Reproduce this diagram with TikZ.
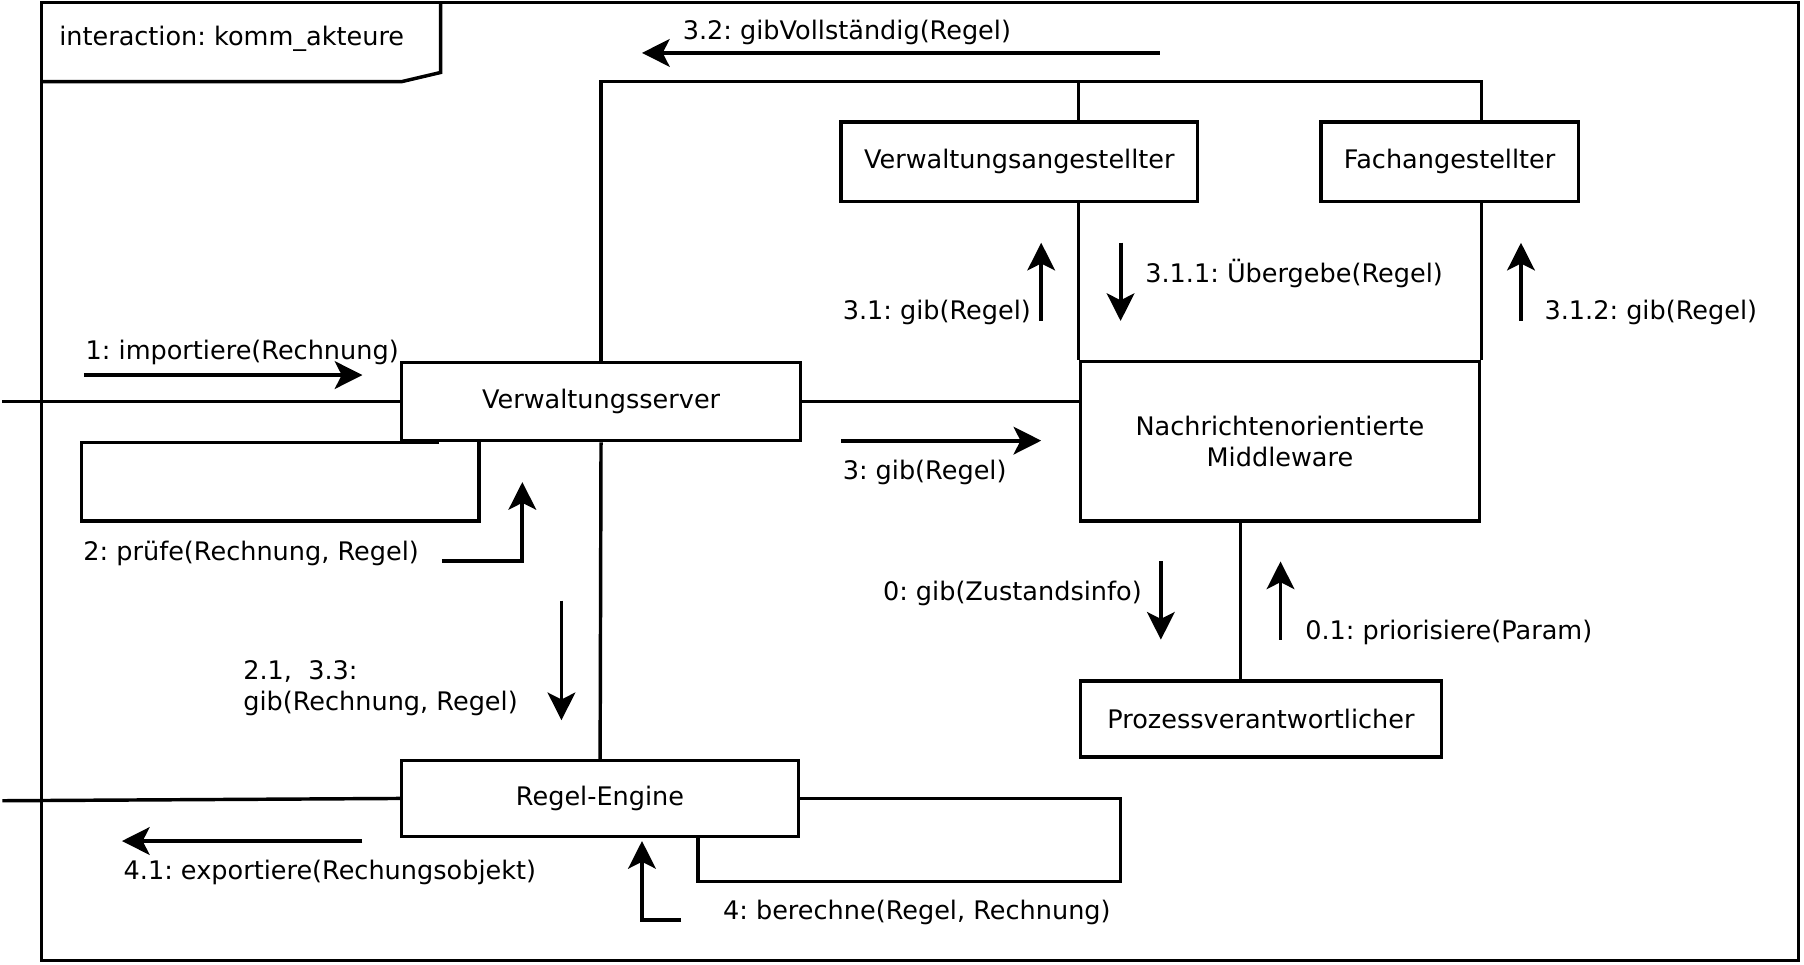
\documentclass[tikz,border=0pt]{standalone}
\usepackage{fontspec}
\setmainfont{DejaVu Sans}
\usetikzlibrary{arrows.meta}
\frenchspacing

\begin{document}
\begin{tikzpicture}[x=0.5pt,y=-0.5pt,line width=1.5pt,
  every node/.style={font=\fontsize{11.1}{13.5}\selectfont},
  obj/.style={draw,inner sep=0pt,align=center},
  msg/.style={line width=1.7pt,-{Stealth[length=12pt,width=12pt,inset=3pt]}},
  lbl/.style={anchor=west,inner sep=0pt,align=left}]
\useasboundingbox (0,0) rectangle (1568,838);
% frame
\draw (36,2) rectangle (1563,835);
\draw (36,71) -- (349,71) -- (383,63) -- (383,2);
\node[lbl] (frm) at (50,34) {interaction: komm\_akteure};

% objects
\node[obj,minimum width=173.5pt,minimum height=34pt] (vs) at (522.5,349) {Verwaltungsserver};
\node[obj,minimum width=155pt,minimum height=34.5pt] (va) at (886,140.5) {Verwaltungsangestellter};
\node[obj,minimum width=112pt,minimum height=34.5pt] (fa) at (1260,140.5) {Fachangestellter};
\node[obj,minimum width=173.5pt,minimum height=69.5pt] (mw) at (1112.5,383.5) {Nachrichtenorientierte\\Middleware};
\node[obj,minimum width=157pt,minimum height=33pt] (pv) at (1096,625) {Prozessverantwortlicher};
\node[obj,minimum width=172.5pt,minimum height=33pt] (re) at (521.5,694) {Regel-Engine};

% links
\coordinate (bus) at (0,71);
\coordinate (in1) at (2,349);
\coordinate (in2) at (2,696);
\draw (in1) -- (vs.west);
\draw (in2) -- (re.west);
\draw (vs.north) |- (bus -| mw.east) -- (fa.north -| mw.east);
\draw (bus -| mw.west) -- (va.north -| mw.west);
\draw (va.south -| mw.west) -- (mw.north west);
\draw (fa.south -| mw.east) -- (mw.north east);
\draw (vs.east) -- (vs.east -| mw.west);
\draw (vs) -- (re);
\draw ([xshift=-9pt]pv.north) -- ([xshift=-9pt]pv.north |- mw.south);
\draw ([xshift=17pt]vs.south west) -| (71,453) -| ([xshift=34.5pt]vs.south west);
\draw (re.east) -| (974,766) -| ([xshift=129.5pt]re.south west);

% messages
\coordinate (imp) at (73,326);
\coordinate (voll) at (1008,46);
\coordinate (gibva) at (905,279);
\coordinate (ueb) at (974,211);
\coordinate (gibfa) at (1322,279);
\coordinate (gibmw) at (731,383);
\coordinate (pruef) at (384,488);
\coordinate (gibre) at (488,522);
\coordinate (zust) at (1009,488);
\coordinate (prio) at (1113,556);
\coordinate (expo) at (315,731);
\coordinate (ber) at (592,800);
\draw[msg] (imp) -- ++(242,0);
\draw[msg] (voll) -- ++(-450,0);
\draw[msg] (gibva) -- ++(0,-68);
\draw[msg] (ueb) -- ++(0,68);
\draw[msg] (gibfa) -- ++(0,-68);
\draw[msg] (gibmw) -- ++(174,0);
\draw[msg] (pruef) -| ++(70,-69);
\draw[msg] (gibre) -- ++(0,104);
\draw[msg] (zust) -- ++(0,68);
\draw[msg] (prio) -- ++(0,-68);
\draw[msg] (expo) -- ++(-209,0);
\draw[msg] (ber) -| ++(-34,-69);

% labels
\node[lbl] (limp) at (73,306) {1: importiere(Rechnung)};
\node[lbl] (lvoll) at (592,28) {3.2: gibVollständig(Regel)};
\node[lbl] (lgibva) at (731,272) {3.1: gib(Regel)};
\node[lbl] (lueb) at (994,238) {3.1.1: Übergebe(Regel)};
\node[lbl] (lgibfa) at (1341,272) {3.1.2: gib(Regel)};
\node[lbl] (lgibmw) at (731,411) {3: gib(Regel)};
\node[lbl] (lpruef) at (71,481) {2: prüfe(Rechnung, Regel)};
\node[lbl] (lgibre) at (210,598) {2.1,~~3.3:\\gib(Rechnung, Regel)};
\node[lbl] (lzust) at (766,516) {0: gib(Zustandsinfo)};
\node[lbl] (lprio) at (1133,550) {0.1: priorisiere(Param)};
\node[lbl] (lexpo) at (106,758) {4.1: exportiere(Rechungsobjekt)};
\node[lbl] (lber) at (627,793) {4: berechne(Regel, Rechnung)};
\end{tikzpicture}
\end{document}
